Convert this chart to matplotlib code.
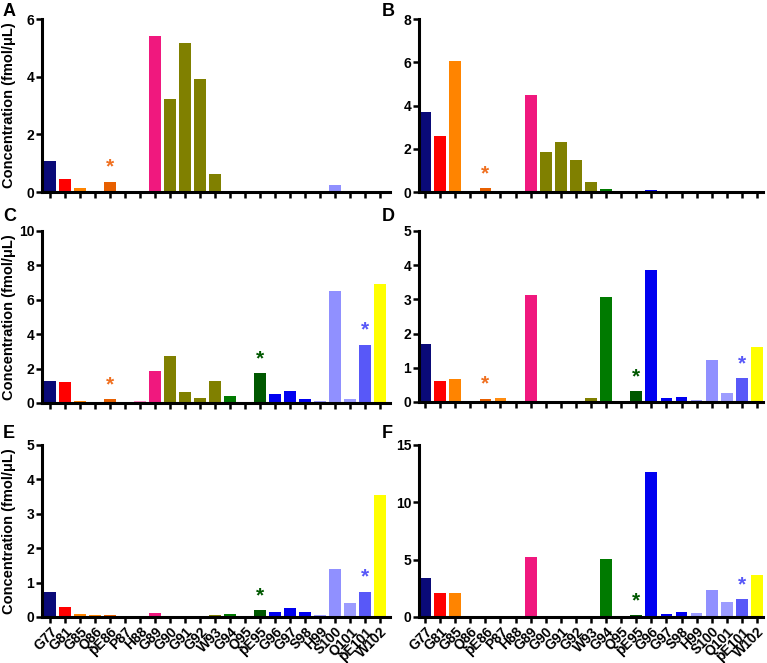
import numpy as np
import matplotlib
matplotlib.use("Agg")
import matplotlib.pyplot as plt

plt.rcParams['font.family'] = ['Liberation Sans', 'DejaVu Sans']
plt.rcParams['font.weight'] = 'bold'

peptides = ['G77', 'G81', 'G85', 'Q86', 'pE86', 'P87', 'H88', 'G89', 'G90', 'G91',
            'G92', 'W93', 'G94', 'Q95', 'pE95', 'G96', 'G97', 'S98', 'H99', 'S100',
            'Q101', 'pE101', 'W102']

bar_colors = ['#0a0a78', '#ff0000', '#ff8400', '#ff8400', '#e86000', '#ff8c10', '#ff88c8',
              '#f0187e', '#808000', '#808000', '#808000', '#808000', '#007a00', '#007a00',
              '#005800', '#0000f0', '#0000f0', '#0000f0', '#9c9cff', '#9090ff',
              '#9c9cff', '#5858f8', '#ffff00']

# values per panel (fmol/uL)
vals_A = [1.07, 0.44, 0.14, 0, 0.36, 0, 0, 5.4, 3.21, 5.16, 3.91, 0.64, 0.02, 0, 0, 0,
          0, 0, 0, 0.23, 0, 0, 0]
vals_B = [3.71, 2.57, 6.08, 0, 0.19, 0, 0, 4.5, 1.83, 2.32, 1.46, 0.46, 0.12, 0, 0, 0.1,
          0, 0, 0, 0, 0, 0, 0]
vals_C = [1.3, 1.2, 0.14, 0, 0.23, 0.06, 0.1, 1.84, 2.73, 0.64, 0.31, 1.3, 0.43, 0.07,
          1.74, 0.54, 0.72, 0.21, 0.14, 6.51, 0.25, 3.39, 6.9]
vals_D = [1.71, 0.61, 0.67, 0, 0.1, 0.12, 0, 3.12, 0, 0, 0, 0.12, 3.06, 0, 0.32, 3.86,
          0.12, 0.14, 0.07, 1.22, 0.26, 0.7, 1.61]
vals_E = [0.72, 0.29, 0.1, 0.07, 0.07, 0.04, 0.04, 0.12, 0.01, 0.01, 0.01, 0.05, 0.09,
          0.04, 0.2, 0.15, 0.27, 0.15, 0.06, 1.4, 0.42, 0.73, 3.54]
vals_F = [3.39, 2.12, 2.12, 0, 0, 0, 0, 5.19, 0, 0, 0, 0, 5.07, 0, 0.17, 12.67, 0.26,
          0.46, 0.38, 2.32, 1.28, 1.54, 3.62]

panels = [
    ('A', vals_A, 6, 2, ['pE86']),
    ('B', vals_B, 8, 2, ['pE86']),
    ('C', vals_C, 10, 2, ['pE86', 'pE95', 'pE101']),
    ('D', vals_D, 5, 1, ['pE86', 'pE95', 'pE101']),
    ('E', vals_E, 5, 1, ['pE95', 'pE101']),
    ('F', vals_F, 15, 5, ['pE95', 'pE101']),
]
star_colors = {'pE86': '#f07020', 'pE95': '#005800', 'pE101': '#5858f8'}

W, H = 767, 663
fig = plt.figure(figsize=(W / 100, H / 100), dpi=100)

# axes boxes in pixels: left, right, top, bottom
boxes = [(42, 390, 19, 192), (419, 763, 19, 192),
         (42, 390, 231, 403), (419, 763, 231, 402),
         (42, 390, 445, 617), (419, 763, 445, 617)]
letter_pos = [(3, 3), (382, 3), (3, 208), (382, 208), (3, 425), (382, 425)]

x = np.arange(len(peptides))
for i, (letter, vals, top, step, stars) in enumerate(panels):
    l, r, t, b = boxes[i]
    ax = fig.add_axes([l / W, 1 - b / H, (r - l) / W, (b - t) / H])
    ax.bar(x, vals, width=0.78, color=bar_colors, zorder=2)
    ax.set_ylim(0, top)
    ax.set_yticks(np.arange(0, top + 0.01, step))
    if i % 2 == 0:
        ax.set_xlim(-0.53, 22.65)
    else:
        ax.set_xlim(-0.4, 22.4)
    ax.set_xticks(x)
    for s in ['top', 'right']:
        ax.spines[s].set_visible(False)
    for s in ['left', 'bottom']:
        ax.spines[s].set_linewidth(2.2)
    ax.tick_params(axis='both', direction='out', length=4, width=1.8, pad=1.5,
                   labelsize=10)
    for lab in ax.get_yticklabels():
        lab.set_fontweight('bold')
    if i >= 4:
        ax.set_xticklabels(peptides, rotation=45, ha='right', rotation_mode='anchor',
                           fontsize=10, fontweight='bold')
    else:
        ax.set_xticklabels([])
    for p in stars:
        k = peptides.index(p)
        ax.annotate('*', (k, vals[k]), xytext=(0, 5), textcoords='offset pixels',
                    ha='center', va='bottom', fontsize=15, fontweight='bold',
                    color=star_colors[p])
    if i % 2 == 0:
        fig.text(9 / W, 1 - (t + b) / 2 / H, 'Concentration (fmol/\u03bcL)', rotation=90,
                 ha='center', va='center', fontsize=10.5, fontweight='bold')
    lx, ly = letter_pos[i]
    fig.text(lx / W, 1 - ly / H, letter, ha='left', va='top', fontsize=13,
             fontweight='bold')

fig.savefig('out.png', dpi=100)
